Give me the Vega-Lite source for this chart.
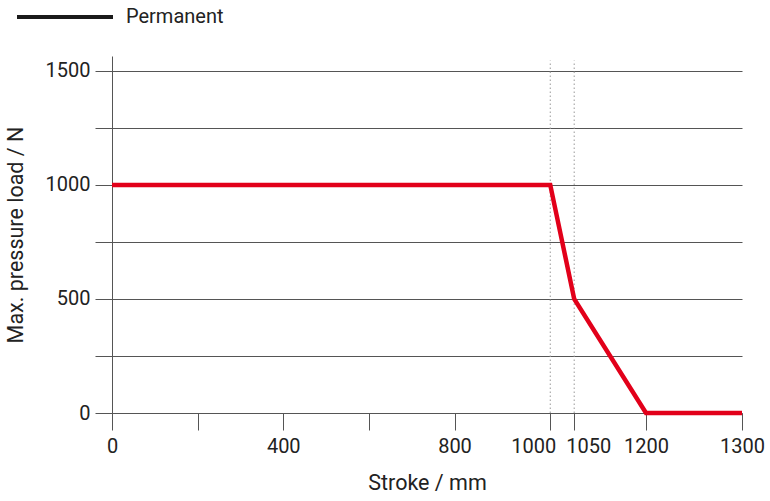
{
  "$schema": "https://vega.github.io/schema/vega-lite/v6.json",
  "width": 630,
  "height": 357,
  "autosize": {"type": "none"},
  "padding": {"left": 112, "top": 56, "right": 28, "bottom": 88},
  "background": "white",
  "config": {
    "view": {"stroke": null},
    "font": "Roboto",
    "axis": {
      "labelFont": "Roboto",
      "titleFont": "Roboto",
      "labelFontSize": 20,
      "titleFontSize": 21.5,
      "titleFontWeight": "normal",
      "labelColor": "#222",
      "titleColor": "#222",
      "domainColor": "#555",
      "tickColor": "#555",
      "gridColor": "#555",
      "gridOpacity": 1,
      "domainWidth": 1,
      "tickWidth": 1,
      "gridWidth": 1
    }
  },
  "datasets": {
    "curve": [
      {"stroke": 0, "load": 1000, "series": "Permanent"},
      {"stroke": 1000, "load": 1000, "series": "Permanent"},
      {"stroke": 1050, "load": 500, "series": "Permanent"},
      {"stroke": 1200, "load": 0, "series": "Permanent"},
      {"stroke": 1300, "load": 0, "series": "Permanent"}
    ],
    "marks": [
      {"stroke": 1000, "y0": 0, "y1": 1545},
      {"stroke": 1050, "y0": 0, "y1": 1545}
    ]
  },
  "encoding": {
    "x": {
      "field": "stroke",
      "type": "quantitative",
      "scale": {"domain": [0, 800, 1200, 1300], "range": [0, 342.5, 534, 630], "nice": false, "zero": false},
      "axis": {
        "title": "Stroke / mm",
        "values": [0, 200, 400, 600, 800, 1000, 1050, 1200, 1300],
        "labelExpr": "datum.value == 200 || datum.value == 600 ? '' : datum.label",
        "format": "d",
        "labelOverlap": false,
        "labelFlush": false,
        "grid": false,
        "tickSize": 17,
        "labelPadding": 6,
        "titlePadding": 16,
        "labelOffset": {"condition": [{"test": "datum.value == 1000", "value": -17}, {"test": "datum.value == 1050", "value": 14}], "value": 0}
      }
    }
  },
  "layer": [
    {
      "data": {"name": "marks"},
      "mark": {"type": "rule", "color": "#999", "strokeWidth": 1, "strokeDash": [1.5, 2.5]},
      "encoding": {
        "y": {"field": "y0", "type": "quantitative"},
        "y2": {"field": "y1"}
      }
    },
    {
      "data": {"name": "curve"},
      "mark": {"type": "line", "strokeWidth": 1.5},
      "encoding": {
        "y": {"field": "load", "type": "quantitative"},
        "color": {
          "field": "series",
          "type": "nominal",
          "scale": {"range": ["#1a1a1a"]},
          "legend": {
            "title": null,
            "orient": "none",
            "legendX": -97,
            "legendY": -89,
            "symbolType": "stroke",
            "symbolSize": 9216,
            "symbolStrokeWidth": 4,
            "labelFont": "Roboto",
            "labelFontSize": 20,
            "labelColor": "#222",
            "labelOffset": 11
          }
        }
      }
    },
    {
      "data": {"name": "curve"},
      "mark": {"type": "line", "strokeWidth": 4.5, "color": "#e2001a", "strokeJoin": "miter", "strokeCap": "butt"},
      "encoding": {
        "y": {
          "field": "load",
          "type": "quantitative",
          "scale": {"domain": [0, 1565], "nice": false, "zero": false},
          "axis": {
            "title": "Max. pressure load / N",
            "values": [0, 250, 500, 750, 1000, 1250, 1500],
            "labelExpr": "datum.value % 500 == 0 ? datum.label : ''",
            "format": "d",
            "grid": true,
            "tickSize": 17,
            "labelPadding": 5,
            "titlePadding": 18,
            "labelOverlap": false
          }
        }
      }
    }
  ]
}
